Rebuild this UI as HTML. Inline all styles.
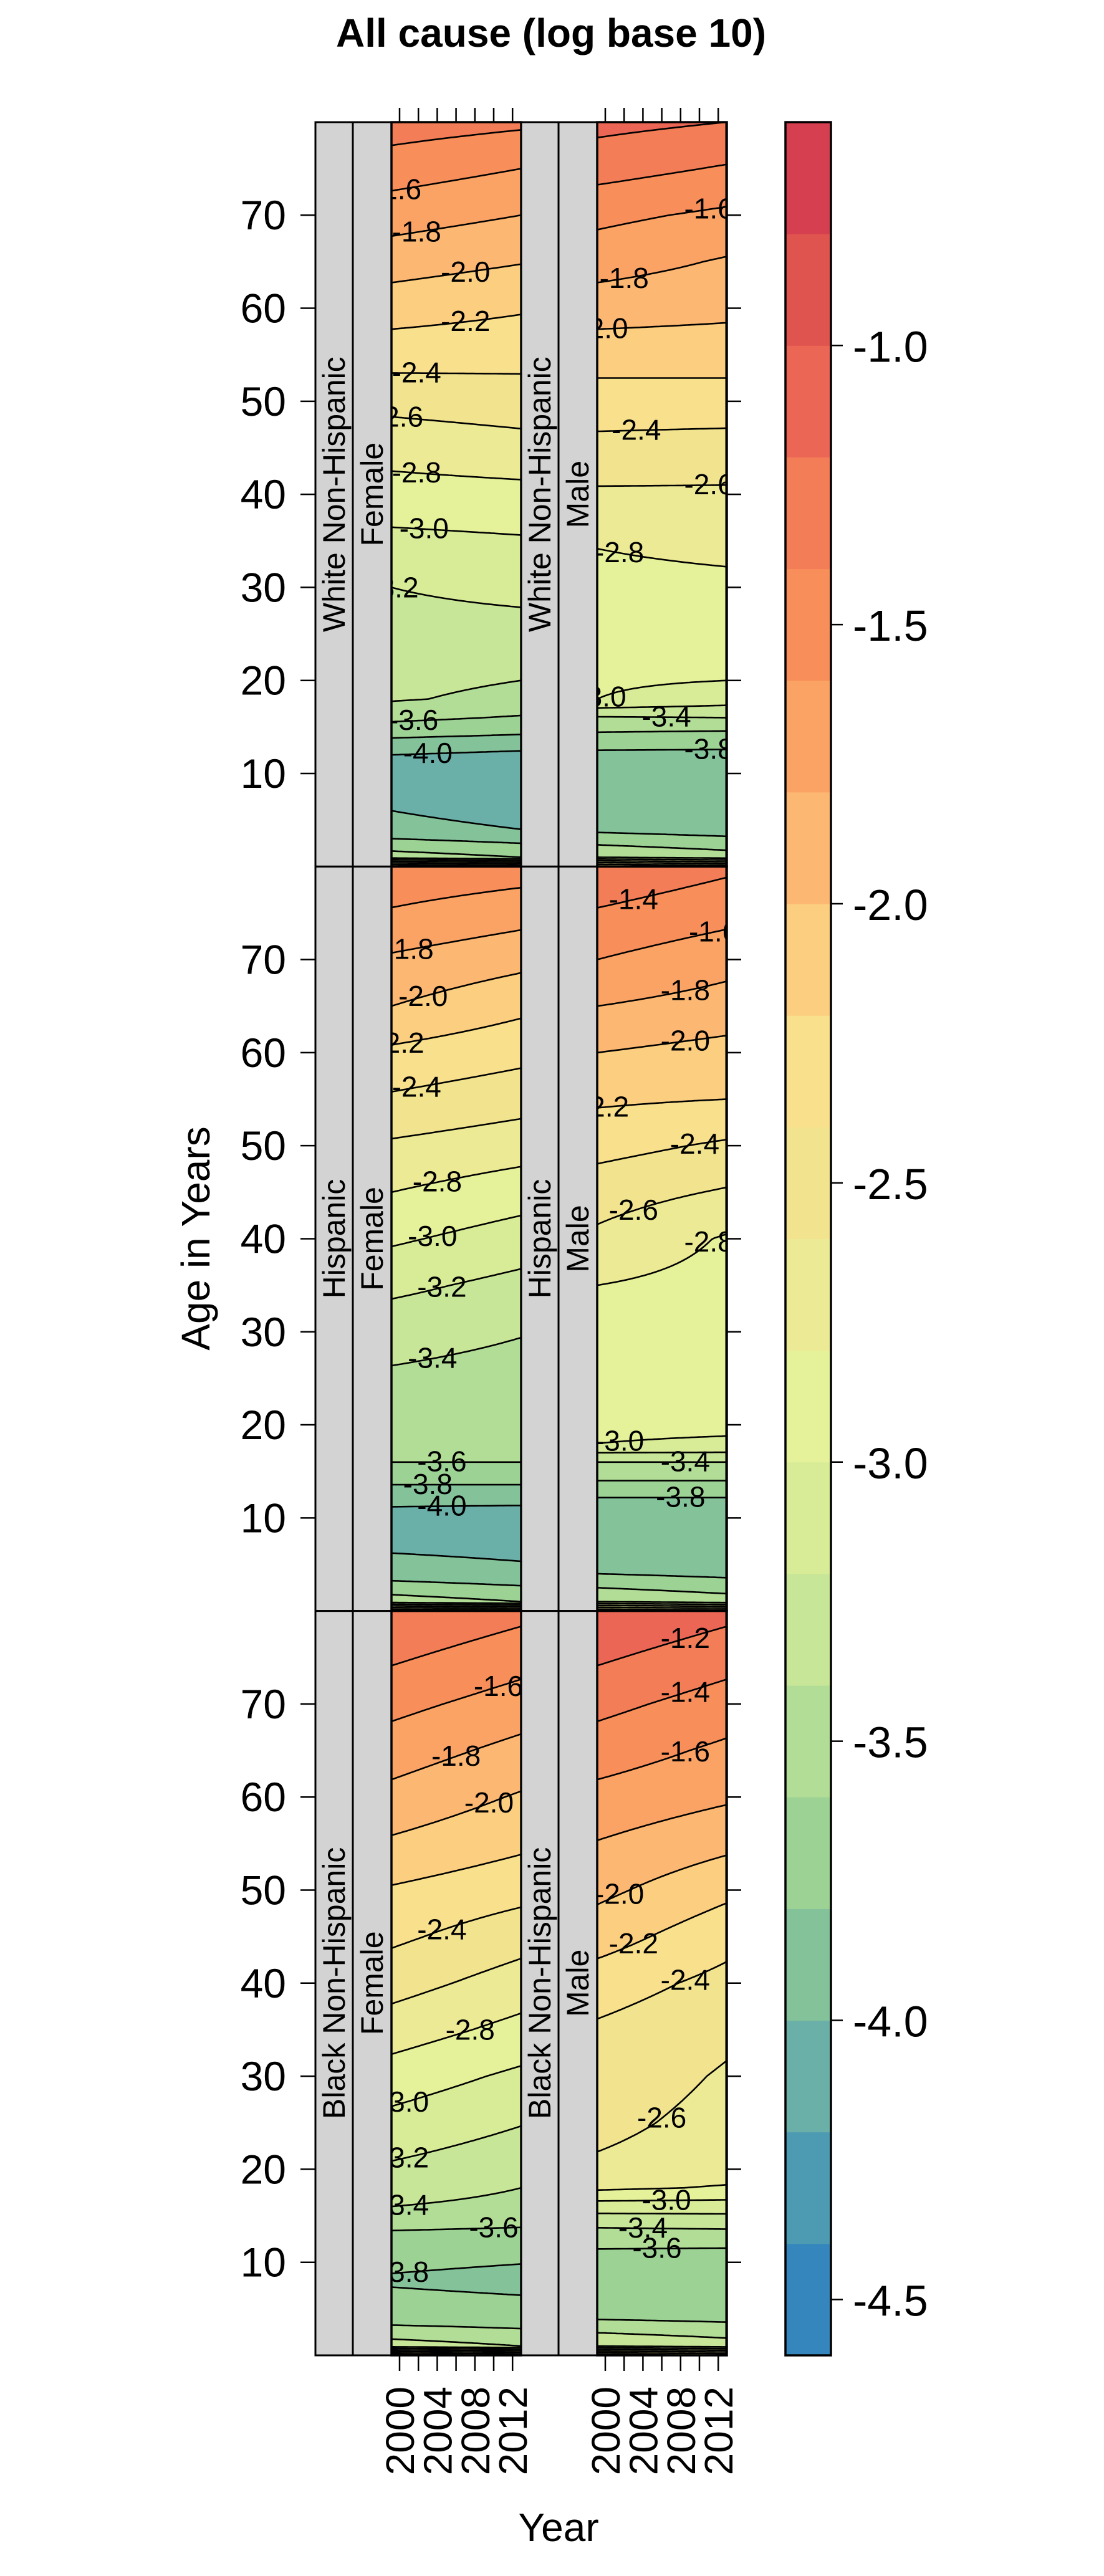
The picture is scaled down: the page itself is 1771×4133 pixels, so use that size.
<!DOCTYPE html>
<html><head><meta charset="utf-8"><style>
html,body{margin:0;padding:0;background:#fff}
svg{display:block}
text{font-family:"Liberation Sans",Arial,sans-serif}
</style></head><body>
<svg id="chart" xmlns="http://www.w3.org/2000/svg" width="1771" height="4133" viewBox="0 0 1771 4133">
<text x="884" y="75" text-anchor="middle" font-size="64" font-weight="bold">All cause (log base 10)</text>
<text x="0" y="0" transform="translate(336,1987) rotate(-90)" text-anchor="middle" font-size="64">Age in Years</text>
<text x="896" y="4077" text-anchor="middle" font-size="64">Year</text>
<g id="panels"></g>
<g id="colorkey"></g>
</svg>
<script>
// ---- data ----
const ages = [0,1,4,8,12,14,16,18,20,25,30,35,40,45,50,55,60,65,70,75,80];
const wnhFemaleStart = [-2.35,-3.5,-3.95,-4.05,-4.0,-3.78,-3.55,-3.38,-3.35,-3.28,-3.2,-3.05,-2.88,-2.72,-2.54,-2.31,-2.11,-1.91,-1.71,-1.50,-1.30];
const wnhFemaleEnd   = [-2.45,-3.6,-4.0,-4.12,-4.05,-3.82,-3.62,-3.45,-3.40,-3.28,-3.14,-3.02,-2.86,-2.67,-2.50,-2.33,-2.18,-1.99,-1.80,-1.60,-1.36];
const wnhMaleStart   = [-2.35,-3.4,-3.85,-3.92,-3.85,-3.65,-3.42,-3.0,-2.97,-2.91,-2.85,-2.79,-2.63,-2.46,-2.29,-2.11,-1.91,-1.71,-1.55,-1.32,-1.14];
const wnhMaleEnd     = [-2.45,-3.5,-3.9,-3.95,-3.85,-3.68,-3.40,-3.1,-3.0,-2.92,-2.84,-2.75,-2.63,-2.48,-2.29,-2.11,-1.95,-1.82,-1.64,-1.42,-1.2];
const hispFemaleStart= [-2.4,-3.5,-3.9,-4.08,-3.98,-3.75,-3.6,-3.55,-3.5,-3.43,-3.32,-3.15,-2.97,-2.8,-2.63,-2.43,-2.24,-2.0,-1.83,-1.62,-1.45];
const hispFemaleEnd  = [-2.5,-3.6,-3.95,-4.1,-3.98,-3.75,-3.6,-3.56,-3.52,-3.47,-3.39,-3.26,-3.09,-2.91,-2.71,-2.52,-2.34,-2.15,-1.94,-1.72,-1.5];
const hispMaleStart  = [-2.4,-3.4,-3.8,-3.95,-3.82,-3.6,-3.4,-3.0,-2.97,-2.93,-2.87,-2.8,-2.64,-2.51,-2.33,-2.17,-2.0,-1.8,-1.6,-1.42,-1.24];
const hispMaleEnd    = [-2.5,-3.5,-3.85,-3.97,-3.82,-3.6,-3.4,-3.02,-2.97,-2.93,-2.9,-2.87,-2.82,-2.62,-2.43,-2.2,-2.07,-1.88,-1.73,-1.53,-1.36];
const bnhFemaleStart = [-2.1,-3.3,-3.7,-3.82,-3.72,-3.55,-3.4,-3.31,-3.23,-3.06,-2.89,-2.7,-2.52,-2.36,-2.22,-2.03,-1.86,-1.7,-1.54,-1.37,-1.2];
const bnhFemaleEnd   = [-2.2,-3.4,-3.72,-3.85,-3.74,-3.58,-3.45,-3.4,-3.33,-3.19,-3.04,-2.86,-2.69,-2.52,-2.33,-2.16,-2.02,-1.86,-1.69,-1.52,-1.34];
const bnhMaleStart   = [-2.1,-3.2,-3.62,-3.72,-3.58,-3.37,-3.1,-2.76,-2.63,-2.55,-2.49,-2.43,-2.3,-2.11,-1.95,-1.81,-1.66,-1.5,-1.34,-1.17,-1.0];
const bnhMaleEnd     = [-2.2,-3.3,-3.65,-3.75,-3.58,-3.35,-3.1,-2.82,-2.7,-2.66,-2.62,-2.56,-2.46,-2.33,-2.15,-1.95,-1.77,-1.64,-1.49,-1.32,-1.14];
const rowNames = ["White Non-Hispanic","Hispanic","Black Non-Hispanic"];
const colNames = ["Female","Male"];
const yearTicks = [2000,2002,2004,2006,2008,2010,2012];
const yearLabels = ["2000","","2004","","2008","","2012"];
const ageTicks = [10,20,30,40,50,60,70];
const keyTicks = [-1.0,-1.5,-2.0,-2.5,-3.0,-3.5,-4.0,-4.5];
const keyTickLabels = ["-1.0","-1.5","-2.0","-2.5","-3.0","-3.5","-4.0","-4.5"];
const wnhFemaleLabels = [[-1.6,1999.7],[-1.8,2001.8],[-2.0,2007],[-2.2,2007],[-2.4,2001.8],[-2.6,1999.9],[-2.8,2001.8],[-3.0,2002.6],[-3.2,1999.4],[-3.6,2001.5],[-4.0,2003]];
const wnhMaleLabels = [[-1.6,2011],[-1.8,2002],[-2.0,1999.8],[-2.4,2003.3],[-2.6,2011],[-2.8,2001.5],[-3.0,1999.6],[-3.4,2006.5],[-3.8,2011]];
const hispFemaleLabels = [[-1.8,2001],[-2.0,2002.5],[-2.2,2000],[-2.4,2001.8],[-2.8,2004],[-3.0,2003.5],[-3.2,2004.5],[-3.4,2003.5],[-3.6,2004.5],[-3.8,2003],[-4.0,2004.5]];
const hispMaleLabels = [[-1.4,2003],[-1.6,2011.5],[-1.8,2008.5],[-2.0,2008.5],[-2.2,1999.9],[-2.4,2009.5],[-2.6,2003],[-2.8,2011],[-3.0,2001.5],[-3.4,2008.5],[-3.8,2008]];
const bnhFemaleLabels = [[-1.6,2010.5],[-1.8,2006],[-2.0,2009.5],[-2.4,2004.5],[-2.8,2007.5],[-3.0,2000.5],[-3.2,2000.5],[-3.4,2000.5],[-3.6,2010],[-3.8,2000.5]];
const bnhMaleLabels = [[-1.2,2008.5],[-1.4,2008.5],[-1.6,2008.5],[-2.0,2001.5],[-2.2,2003],[-2.4,2008.5],[-2.6,2006],[-3.0,2006.5],[-3.4,2004],[-3.6,2005.5]];

const panelData = [
  [[wnhFemaleStart,wnhFemaleEnd,wnhFemaleLabels],[wnhMaleStart,wnhMaleEnd,wnhMaleLabels]],
  [[hispFemaleStart,hispFemaleEnd,hispFemaleLabels],[hispMaleStart,hispMaleEnd,hispMaleLabels]],
  [[bnhFemaleStart,bnhFemaleEnd,bnhFemaleLabels],[bnhMaleStart,bnhMaleEnd,bnhMaleLabels]]
];

// ---- layout ----
const NS="http://www.w3.org/2000/svg";
const TOP=196, ROWH=1194.33, AGEPX=14.93;
const COLX=[506,836]; const STRIPW=[60,62]; const PLOTW=208;
const YEARPX=15.1, YEARMIN=1999.14, YEARMAX=2012.9;
const VMIN=-4.6, VMAX=-0.6, NB=20;
const palette=["#3586BC","#4D9AB3","#6AAFA8","#84C29A","#9DD295","#B2DD96","#C8E697","#D8EC97","#E6F299","#EDEA95","#F2E48F","#F9E08C","#FCCE80","#FCB872","#FBA365","#F88E5A","#F37D56","#EB6655","#E0544F","#D53F4F"];
function bandColor(i){return palette[i];}
function el(tag,attrs,parent){const e=document.createElementNS(NS,tag);for(const k in attrs)e.setAttribute(k,attrs[k]);parent.appendChild(e);return e;}
function interpAge(arr,age){if(age<=ages[0])return arr[0];for(let i=1;i<ages.length;i++){if(age<=ages[i]){const f=(age-ages[i-1])/(ages[i]-ages[i-1]);return arr[i-1]+(arr[i]-arr[i-1])*f;}}return arr[arr.length-1];}
function field(s,e,age,yr){const t=(yr-YEARMIN)/(YEARMAX-YEARMIN);return interpAge(s,age)*(1-t)+interpAge(e,age)*t;}
function bandOf(v){return Math.max(0,Math.min(NB-1,Math.floor((v-VMIN)/0.2)));}

const gp=document.getElementById('panels');
for(let r=0;r<3;r++){
  const yb=TOP+ROWH*(r+1), yt=TOP+ROWH*r;
  const yAge=a=>yb-a*AGEPX;
  for(let c=0;c<2;c++){
    const px=COLX[c]+STRIPW[0]+STRIPW[1];
    const xYear=y=>px+(y-YEARMIN)*YEARPX;
    const [S,E,L]=panelData[r][c];
    const s1=el('rect',{x:COLX[c],y:yt,width:STRIPW[0],height:ROWH,fill:'#D3D3D3',stroke:'#000','stroke-width':3},gp);
    
    
    const s2=el('rect',{x:COLX[c]+STRIPW[0],y:yt,width:STRIPW[1],height:ROWH,fill:'#D3D3D3',stroke:'#000','stroke-width':3},gp);
    
    
    const t1=el('text',{transform:'translate('+(COLX[c]+STRIPW[0]/2+17)+','+(yt+ROWH/2)+') rotate(-90)','text-anchor':'middle','font-size':50},gp);
    t1.textContent=rowNames[r];
    
    
    const t2=el('text',{transform:'translate('+(COLX[c]+STRIPW[0]+STRIPW[1]/2+17)+','+(yt+ROWH/2)+') rotate(-90)','text-anchor':'middle','font-size':50},gp);
    t2.textContent=colNames[c];
    
    
    const g=el('g',{},gp);
    
    
    const NC=52, cw=PLOTW/NC, DA=0.1;
    for(let k=0;k<NC;k++){
      const yr=YEARMIN+(k+0.5)*(YEARMAX-YEARMIN)/NC;
      let runStart=80, runBand=bandOf(field(S,E,80,yr));
      for(let a=80-DA;a>-DA/2;a-=DA){
        const aa=Math.max(a,0);
        const b=bandOf(field(S,E,aa,yr));
        if(b!==runBand||a<=DA/2){
          const endA=(a<=DA/2)?0:aa+DA/2;
          const rc=el('rect',{x:(px+k*cw).toFixed(2),y:yAge(runStart).toFixed(2),width:(cw+0.6).toFixed(2),height:(yAge(endA)-yAge(runStart)+0.6).toFixed(2),fill:bandColor(runBand)},g);
          
          
          runStart=endA;runBand=b;
        }
      }
    }
    const gl=el('g',{fill:'none',stroke:'#000','stroke-width':2.6,'stroke-linejoin':'round'},gp);
    
    
    const NPT=53, STEP=0.04;
    const prof=[];
    for(let k=0;k<NPT;k++){const yr=YEARMIN+k*(YEARMAX-YEARMIN)/(NPT-1);const p=[];for(let a=0;a<=80+1e-9;a+=STEP)p.push(field(S,E,a,yr));prof.push({yr,p});}
    for(let li=1;li<NB;li++){
      const lev=VMIN+li*0.2;
      const topPts=[],botPts=[];
      for(const {yr,p} of prof){
        let at=null,ab=null;
        for(let i=p.length-1;i>0;i--){if((p[i]-lev)*(p[i-1]-lev)<=0&&p[i]!==p[i-1]){at=(i-1+(lev-p[i-1])/(p[i]-p[i-1]))*STEP;break;}}
        for(let i=1;i<p.length;i++){if((p[i]-lev)*(p[i-1]-lev)<=0&&p[i]!==p[i-1]){ab=(i-1+(lev-p[i-1])/(p[i]-p[i-1]))*STEP;break;}}
        topPts.push(at===null?null:[xYear(yr),yAge(at)]);
        botPts.push((ab===null||at===null||Math.abs(ab-at)<0.01)?null:[xYear(yr),yAge(ab)]);
      }
      for(const pts of [topPts,botPts]){
        let d='';let pen=false;
        for(const q of pts){if(!q){pen=false;continue;}d+=(pen?'L':'M')+q[0].toFixed(1)+' '+q[1].toFixed(1);pen=true;}
        if(d){const pa=el('path',{d},gl);}
      }
    }
    const clipId='clip'+r+c;
    const cp=el('clipPath',{id:clipId},gp);el('rect',{x:px,y:yt,width:PLOTW,height:ROWH},cp);
    const glb=el('g',{'clip-path':'url(#'+clipId+')'},gp);
    
    
    for(const [lev,yr] of L){
      let at=null;
      for(let a=80;a>0;a-=0.02){const v1=field(S,E,a,yr),v0=field(S,E,a-0.02,yr);if((v1-lev)*(v0-lev)<=0){at=a;break;}}
      if(at===null)continue;
      const tx=el('text',{x:xYear(yr).toFixed(1),y:(yAge(at)+15).toFixed(1),'text-anchor':'middle','font-size':46},glb);
      tx.textContent=lev.toFixed(1);
      
      
    }
    const bd=el('rect',{x:px,y:yt,width:PLOTW,height:ROWH,fill:'none',stroke:'#000','stroke-width':3.5},gp);
    
    
    if(r===0||r===2){
      for(let i=0;i<yearTicks.length;i++){
        const x=xYear(yearTicks[i]);
        const tk=el('line',r===0?{x1:x,x2:x,y1:yt-23,y2:yt}:{x1:x,x2:x,y1:yb,y2:yb+25},gp);
        tk.setAttribute('stroke','#000');tk.setAttribute('stroke-width','2.5');
        
        
        if(r===2&&yearLabels[i]){
          const lt=el('text',{transform:'translate('+(x+23)+','+(yb+50)+') rotate(-90)','text-anchor':'end','font-size':64},gp);
          lt.textContent=yearLabels[i];
          
          
        }
      }
    }
  }
  for(const a of ageTicks){
    const y=yAge(a);
    const tl=el('line',{x1:482,x2:506,y1:y,y2:y,stroke:'#000','stroke-width':2.5},gp);
    
    
    const tr=el('line',{x1:1165,x2:1189,y1:y,y2:y,stroke:'#000','stroke-width':2.5},gp);
    
    
    const lb=el('text',{x:459,y:y+23,'text-anchor':'end','font-size':66},gp);
    lb.textContent=String(a);
    
    
  }
}
const ob=el('rect',{x:506,y:TOP,width:659,height:ROWH*3,fill:'none',stroke:'#000','stroke-width':3},gp);



const gk=document.getElementById('colorkey');
const KX=1260,KW=73,KT=196,KB=3779;
const kY=v=>KT+(VMAX-v)/(VMAX-VMIN)*(KB-KT);
for(let i=0;i<NB;i++){
  const lo=VMIN+i*0.2, hi=lo+0.2;
  const rk=el('rect',{x:KX,y:kY(hi).toFixed(2),width:KW,height:(kY(lo)-kY(hi)+0.5).toFixed(2),fill:bandColor(i)},gk);
  
  
}
const kb=el('rect',{x:KX,y:KT,width:KW,height:KB-KT,fill:'none',stroke:'#000','stroke-width':3.5},gk);


for(let i=0;i<keyTicks.length;i++){
  const y=kY(keyTicks[i]);
  const t=el('line',{x1:KX+KW,x2:KX+KW+19,y1:y,y2:y,stroke:'#000','stroke-width':2.5},gk);
  
  
  const lb=el('text',{x:1368,y:y+26,'font-size':70},gk);
  lb.textContent=keyTickLabels[i];
  
  
}
</script>
</body></html>
